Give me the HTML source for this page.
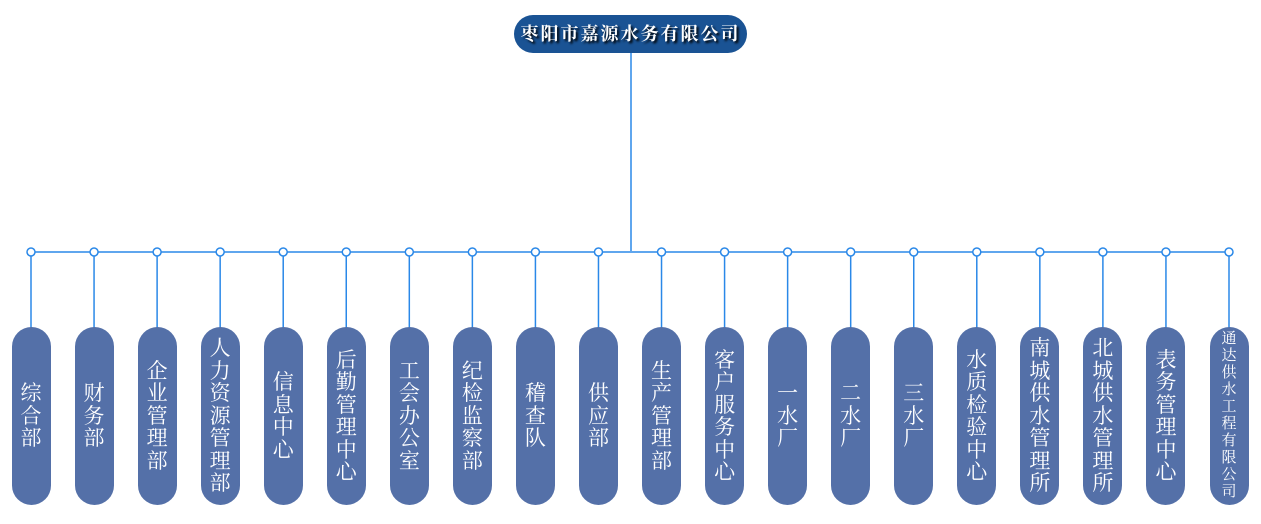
<!DOCTYPE html>
<html><head><meta charset="utf-8"><style>
body{margin:0;background:#fff;width:1261px;height:524px;position:relative;overflow:hidden;font-family:"Liberation Serif","Noto Serif CJK SC",serif;}
.top{position:absolute;left:514px;top:15px;width:233px;height:38px;border-radius:19px;background:#1a5394;color:#fff;font-weight:bold;font-size:18px;line-height:38px;text-align:center;letter-spacing:2px;text-shadow:2px 2px 2px #000;}
.b{position:absolute;top:327px;width:39px;height:178px;border-radius:20px;background:#5470a8;color:#fff;font-size:21px;line-height:22.5px;display:flex;align-items:center;justify-content:center;text-align:center;}
.b span{width:22px;display:block;}
</style></head><body>
<svg width="1261" height="524" style="position:absolute;left:0;top:0">
<g stroke="#2a88e8" stroke-width="1.5" fill="#fff">
<line x1="631" y1="53" x2="631" y2="251"/>
<line x1="31" y1="252" x2="1229" y2="252"/>
<g id="c"></g>
</g>
</svg>
<div class="top">枣阳市嘉源水务有限公司</div>
<div id="boxes"></div>
<script>
var names=["综合部","财务部","企业管理部","人力资源管理部","信息中心","后勤管理中心","工会办公室","纪检监察部","稽查队","供应部","生产管理部","客户服务中心","一水厂","二水厂","三水厂","水质检验中心","南城供水管理所","北城供水管理所","表务管理中心","通达供水工程有限公司"];
var g=document.getElementById('c'),bx=document.getElementById('boxes'),h='';
var ns="http://www.w3.org/2000/svg";
names.forEach(function(n,i){
 var x=31+i*(1198/19);
 var l=document.createElementNS(ns,'line');l.setAttribute('x1',x);l.setAttribute('x2',x);l.setAttribute('y1',252);l.setAttribute('y2',328);g.appendChild(l);
 var c=document.createElementNS(ns,'circle');c.setAttribute('cx',x);c.setAttribute('cy',252);c.setAttribute('r',4);g.appendChild(c);
 var st=n.length>8?'font-size:15px;line-height:17px;':'';
 h+='<div class="b" style="left:'+(x-19.5)+'px;'+st+'"><span>'+n+'</span></div>';
});
bx.innerHTML=h;
</script>
</body></html>
